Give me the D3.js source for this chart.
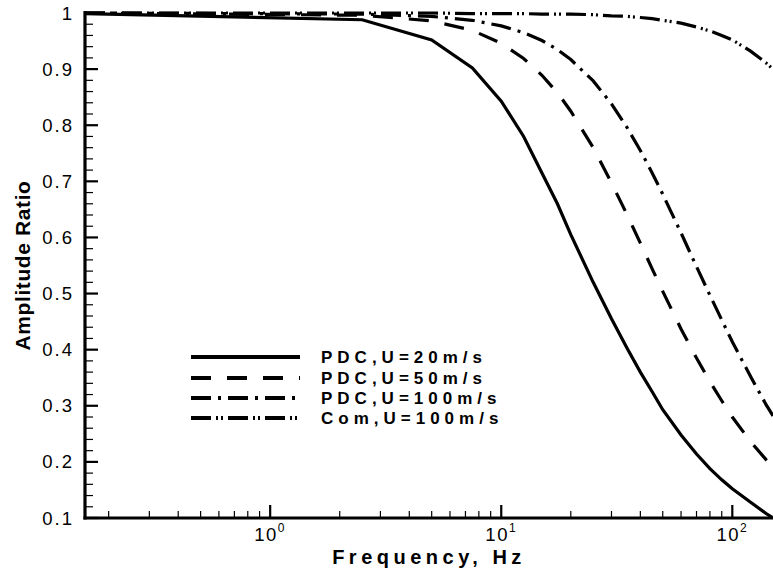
<!DOCTYPE html>
<html>
<head>
<meta charset="utf-8">
<script src="https://cdn.jsdelivr.net/npm/d3@7"></script>
<style>
  html, body { margin: 0; padding: 0; background: #fff; }
  svg { display: block; }
  text { font-family: "Liberation Sans", Arial, sans-serif; fill: #000; }
</style>
</head>
<body>
<svg id="chart" width="773" height="571"></svg>
<script>
// ---- data ----
const freqs  = [0.158, 2.5, 5, 7.5, 10, 12.5, 15, 17.5, 20, 25, 30, 35, 40, 45, 50, 60, 70, 80, 90, 100, 120, 140, 150];
const pdc20  = [0.999, 0.988, 0.952, 0.902, 0.843, 0.780, 0.715, 0.660, 0.605, 0.520, 0.455, 0.403, 0.360, 0.325, 0.293, 0.248, 0.214, 0.188, 0.168, 0.152, 0.128, 0.108, 0.100];
const pdc50  = [1.000, 0.996, 0.986, 0.969, 0.946, 0.919, 0.889, 0.858, 0.825, 0.760, 0.697, 0.641, 0.590, 0.544, 0.504, 0.437, 0.385, 0.343, 0.309, 0.280, 0.236, 0.204, 0.191];
const pdc100 = [1.000, 0.998, 0.994, 0.987, 0.977, 0.965, 0.951, 0.935, 0.917, 0.879, 0.838, 0.796, 0.755, 0.715, 0.677, 0.608, 0.548, 0.497, 0.453, 0.414, 0.352, 0.302, 0.282];
const com100 = [1.000, 1.000, 1.000, 0.999, 0.999, 0.999, 0.998, 0.998, 0.998, 0.997, 0.995, 0.994, 0.992, 0.990, 0.987, 0.982, 0.975, 0.968, 0.960, 0.952, 0.932, 0.911, 0.900];
const seriesNames = ["PDC,U=20m/s", "PDC,U=50m/s", "PDC,U=100m/s", "Com,U=100m/s"];
const yTickValues = [0.1, 0.2, 0.3, 0.4, 0.5, 0.6, 0.7, 0.8, 0.9, 1];
const yTickLabels = ["0.1", "0.2", "0.3", "0.4", "0.5", "0.6", "0.7", "0.8", "0.9", "1"];
const xTickValues = [1, 10, 100];
const xTickExps = ["0", "1", "2"];
const xTitle = "Frequency, Hz";
const yTitle = "Amplitude Ratio";

// ---- layout ----
const L = 85, R = 773, T = 13, B = 518;
const svg = d3.select("#chart");
const x = d3.scaleLog().domain([0.158, 150]).range([L, R]);
const y = d3.scaleLinear().domain([0.1, 1]).range([B, T]);

const dashes = [null, "20,16", "20,7,3,7", "20,5,2,3,2,5"];
const allSeries = [pdc20, pdc50, pdc100, com100];

svg.append("defs").append("clipPath").attr("id", "clip")
  .append("rect").attr("x", L).attr("y", 0).attr("width", R - L).attr("height", B);

// curves
const line = d3.line().x(d => x(d[0])).y(d => y(d[1]));
const gCurves = svg.append("g").attr("clip-path", "url(#clip)");
allSeries.forEach((vals, i) => {
  gCurves.append("path")
    .datum(freqs.map((f, j) => [f, vals[j]]))
    .attr("d", line)
    .attr("fill", "none")
    .attr("stroke", "#000")
    .attr("stroke-width", 3.2)
    .attr("stroke-dasharray", dashes[i]);
});

// y minor ticks
const yMinor = d3.range(0.1, 1.0001, 0.02).filter(v => Math.abs(Math.round(v * 10) - v * 10) > 1e-6);
svg.append("g").selectAll("line").data(yMinor).join("line")
  .attr("x1", L).attr("x2", L + 8).attr("y1", d => y(d)).attr("y2", d => y(d))
  .attr("stroke", "#000").attr("stroke-width", 1.2);
// y major ticks
svg.append("g").selectAll("line").data(yTickValues).join("line")
  .attr("x1", L).attr("x2", L + 13).attr("y1", d => y(d)).attr("y2", d => y(d))
  .attr("stroke", "#000").attr("stroke-width", 2.2);
// y labels
svg.append("g").selectAll("text").data(yTickValues).join("text")
  .attr("x", L - 11).attr("y", d => y(d) + 6.5)
  .attr("text-anchor", "end")
  .attr("font-size", 18.5)
  .attr("letter-spacing", 2)
  .text((d, i) => yTickLabels[i]);

// x minor ticks
const xMinor = [];
[0.1, 1, 10].forEach(base => { for (let k = 2; k <= 9; k++) xMinor.push(base * k); });
svg.append("g").selectAll("line").data(xMinor.filter(v => v >= 0.158 && v <= 150)).join("line")
  .attr("x1", d => x(d)).attr("x2", d => x(d)).attr("y1", B).attr("y2", B - 7)
  .attr("stroke", "#000").attr("stroke-width", 1.2);
svg.append("g").selectAll("line").data(xTickValues).join("line")
  .attr("x1", d => x(d)).attr("x2", d => x(d)).attr("y1", B).attr("y2", B - 13)
  .attr("stroke", "#000").attr("stroke-width", 2.2);
// x labels
const xl = svg.append("g").selectAll("text").data(xTickValues).join("text")
  .attr("x", d => x(d)).attr("y", B + 23)
  .attr("text-anchor", "middle")
  .attr("font-size", 18.5)
  .attr("letter-spacing", 1.5);
xl.append("tspan").text("10");
xl.append("tspan").attr("dy", -9).attr("font-size", 12).text((d, i) => xTickExps[i]);

// axis lines
svg.append("line").attr("x1", L).attr("x2", L).attr("y1", T - 2).attr("y2", B + 1.5)
  .attr("stroke", "#000").attr("stroke-width", 3.2);
svg.append("line").attr("x1", L - 1.5).attr("x2", R).attr("y1", B).attr("y2", B)
  .attr("stroke", "#000").attr("stroke-width", 3.2);

// axis titles
svg.append("text").attr("x", (L + R) / 2).attr("y", 564)
  .attr("text-anchor", "middle").attr("font-size", 20).attr("font-weight", "bold")
  .attr("letter-spacing", 4.5).text(xTitle);
svg.append("text").attr("transform", `translate(30,${(T + B) / 2}) rotate(-90)`)
  .attr("text-anchor", "middle").attr("font-size", 21).attr("font-weight", "bold")
  .attr("letter-spacing", 0.6).text(yTitle);

// legend
const legY = [357, 378, 398, 418];
const lg = svg.append("g");
seriesNames.forEach((name, i) => {
  lg.append("line").attr("x1", 191).attr("x2", 300).attr("y1", legY[i]).attr("y2", legY[i])
    .attr("stroke", "#000").attr("stroke-width", 4).attr("stroke-dasharray", dashes[i]);
  lg.append("text").attr("x", 321).attr("y", legY[i] + 6)
    .attr("font-size", 17).attr("font-weight", "bold").attr("letter-spacing", 5)
    .text(name);
});
</script>
</body>
</html>
